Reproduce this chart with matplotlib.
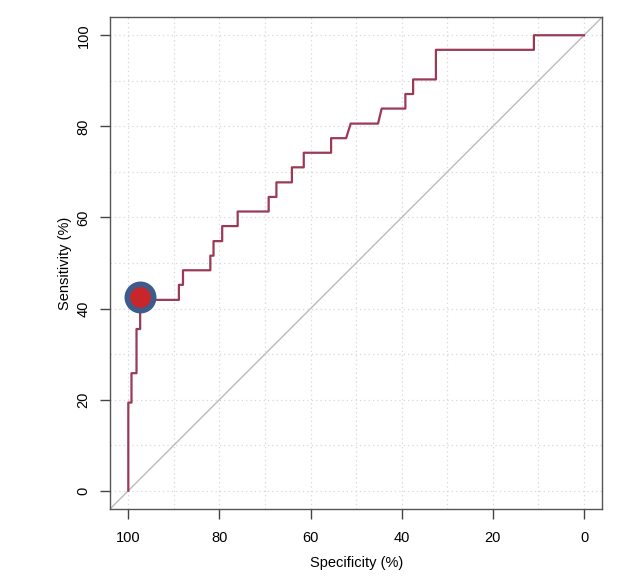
import numpy as np
import matplotlib
matplotlib.use("Agg")
import matplotlib.pyplot as plt

plt.rcParams['font.family'] = ['Liberation Sans', 'DejaVu Sans']

# ROC curve (specificity %, sensitivity %)
spec = [100, 100, 99.3, 99.3, 98.2, 98.2, 97.4, 97.4, 88.9, 88.9, 88.0, 88.0,
        82.0, 82.0, 81.3, 81.3, 79.4, 79.4, 76.0, 76.0, 69.2, 69.2, 67.5, 67.5,
        64.1, 64.1, 61.5, 61.5, 55.5, 55.5, 52.2, 51.2, 45.2, 44.4, 39.2, 39.2,
        37.5, 37.5, 32.5, 32.5, 11.0, 11.0, 0]
sens = [0, 19.35, 19.35, 25.8, 25.8, 35.5, 35.5, 41.9, 41.9, 45.2, 45.2, 48.4,
        48.4, 51.6, 51.6, 54.8, 54.8, 58.1, 58.1, 61.3, 61.3, 64.5, 64.5, 67.7,
        67.7, 71.0, 71.0, 74.2, 74.2, 77.4, 77.4, 80.6, 80.6, 83.9, 83.9, 87.1,
        87.1, 90.3, 90.3, 96.8, 96.8, 100, 100]

# best threshold point
best_spec = 97.4
best_sens = 42.5

ticks = [100, 80, 60, 40, 20, 0]
grid_vals = np.arange(0, 101, 10)

fig = plt.figure(figsize=(6.4, 5.87), dpi=100)
ax = fig.add_axes([0.172, 0.133, 0.769, 0.838])

for g in grid_vals:
    ax.axvline(g, color='#d8d8d8', lw=0.9, ls=(0, (1, 2.5)), zorder=0)
    ax.axhline(g, color='#d8d8d8', lw=0.9, ls=(0, (1, 2.5)), zorder=0)

ax.axline((100, 0), (0, 100), color='#bbbbbb', lw=1, zorder=1)
ax.plot(spec, sens, color='#9b3a56', lw=1.6, zorder=2)
ax.plot(best_spec, best_sens, 'o', ms=19, mfc='#c8262a', mec='#3d5c8c', mew=4, zorder=3)

ax.set_xlim(104, -4)
ax.set_ylim(-4, 104)
ax.set_xticks(ticks)
ax.set_yticks(ticks)
ax.tick_params(direction='out', length=7, width=1, color='#444444', labelsize=10.5, pad=9)
ax.tick_params(axis='y', pad=7)
for lab in ax.get_yticklabels():
    lab.set_rotation(90)
    lab.set_va('center')
for s in ax.spines.values():
    s.set_color('#555555')
    s.set_linewidth(1)
ax.set_xlabel('Specificity (%)', fontsize=10.5, labelpad=8)
ax.set_ylabel('Sensitivity (%)', fontsize=10.5, labelpad=3)

fig.savefig('out.png', dpi=100)
